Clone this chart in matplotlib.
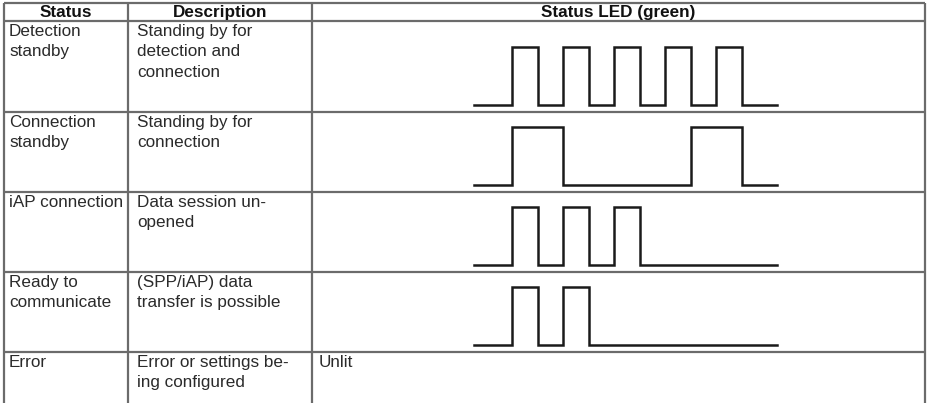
import matplotlib
matplotlib.use("Agg")
import matplotlib.pyplot as plt

# ---------------- data ----------------
headers = ["Status", "Description", "Status LED (green)"]
statuses = ["Detection\nstandby", "Connection\nstandby", "iAP connection",
            "Ready to\ncommunicate", "Error"]
descriptions = ["Standing by for\ndetection and\nconnection",
                "Standing by for\nconnection",
                "Data session un-\nopened",
                "(SPP/iAP) data\ntransfer is possible",
                "Error or settings be-\ning configured"]
# LED pulses per row: list of (start, width) in time units; None = unlit
led_pulses = [
    [(1.5, 1), (3.5, 1), (5.5, 1), (7.5, 1), (9.5, 1)],
    [(1.5, 2), (8.5, 2)],
    [(1.5, 1), (3.5, 1), (5.5, 1)],
    [(1.5, 1), (3.5, 1)],
    None,
]
led_text = ["", "", "", "", "Unlit"]
t_end = 11.9

# ---------------- layout ----------------
W, H = 928, 403
xcols = [4, 128, 312, 925]
yrows = [3, 21, 112, 192, 272, 352, 410]
wave_x0 = 474
unit = 25.5
low_off = 7
amp = 58
fs = 12.3

fig = plt.figure(figsize=(W / 100, H / 100), dpi=100)
ax = fig.add_axes([0, 0, 1, 1])
ax.set_xlim(0, W)
ax.set_ylim(H, 0)
ax.axis("off")

font = ["Liberation Sans", "DejaVu Sans"]
tc = "#2a2a2a"
gc = "#6b6b6b"

# grid
for y in yrows[:-1]:
    ax.plot([xcols[0], xcols[-1]], [y, y], color=gc, lw=1.6, solid_capstyle="butt")
for x in xcols:
    ax.plot([x, x], [yrows[0], H + 5], color=gc, lw=1.6, solid_capstyle="butt")

# header
for i, h in enumerate(headers):
    ax.text((xcols[i] + xcols[i + 1]) / 2, (yrows[0] + yrows[1]) / 2 + 0.5, h,
            ha="center", va="center", fontsize=fs, fontweight="bold",
            family=font, color="#111111")

offs = [5, 9, 7]
# body
for r in range(len(statuses)):
    top = yrows[r + 1]
    bot = yrows[r + 2]
    ax.text(xcols[0] + offs[0], top + 3, statuses[r], ha="left", va="top",
            fontsize=fs, family=font, color=tc, linespacing=1.45)
    ax.text(xcols[1] + offs[1], top + 3, descriptions[r], ha="left", va="top",
            fontsize=fs, family=font, color=tc, linespacing=1.45)
    if led_text[r]:
        ax.text(xcols[2] + offs[2], top + 3, led_text[r], ha="left", va="top",
                fontsize=fs, family=font, color=tc)
    pulses = led_pulses[r]
    if pulses:
        low = bot - low_off
        high = low - amp
        xs = [wave_x0]
        ys = [low]
        for s, w in pulses:
            xa = wave_x0 + s * unit
            xb = wave_x0 + (s + w) * unit
            xs += [xa, xa, xb, xb]
            ys += [low, high, high, low]
        xs.append(wave_x0 + t_end * unit)
        ys.append(low)
        ax.plot(xs, ys, color="#1a1a1a", lw=1.8, solid_joinstyle="miter")

fig.savefig("out.png", dpi=100)
